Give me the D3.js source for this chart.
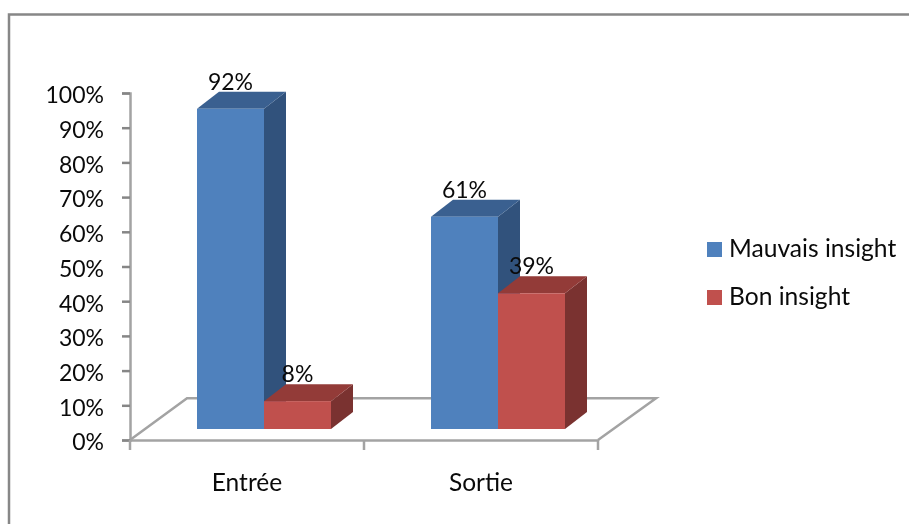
<!DOCTYPE html>
<html><head><meta charset="utf-8">
<script src="https://cdn.jsdelivr.net/npm/d3@7"></script>
<style>html,body{margin:0;padding:0;background:#fff;overflow:hidden}svg{display:block;filter:blur(0.35px)}text{font-family:Lato,"Open Sans",sans-serif;fill:#0a0a0a}</style>
</head><body><svg id="c" width="909" height="524"></svg>
<script>
const categories = ["Entrée","Sortie"];
const seriesNames = ["Mauvais insight","Bon insight"];
const mauvais = [92,61];
const bon = [8,39];
const yTicks = [0,10,20,30,40,50,60,70,80,90,100];
const colors = {front:["#4f81bd","#c0504d"],top:["#3a6090","#933b38"],side:["#31527c","#7a3230"]};

const svg = d3.select("#c");
const W=909,H=524;
const depthX=22, depthY=17;
const yAxis = d3.scaleLinear().domain([0,100]).range([440,93]);
const yBar = d3.scaleLinear().domain([0,100]).range([429,81]);
const xBand = d3.scaleBand().domain(categories).range([130,598]);
const xSeries = d3.scaleBand().domain(seriesNames).range([0,134]);
const grey="#a3a3a3";

svg.append("rect").attr("x",9).attr("y",14.5).attr("width",W).attr("height",H).attr("fill","#fff").attr("stroke","#878787").attr("stroke-width",2.5);

// floor
const floorPath = d3.path();
const x0=xBand.range()[0], x1=xBand.range()[1], yf=yAxis(0), yb=yAxis(12);
floorPath.moveTo(x0,yf);floorPath.lineTo(x0+57,yb);floorPath.lineTo(x1+58,yb);floorPath.lineTo(x1,yf);
svg.append("path").attr("d",floorPath.toString()).attr("fill","none").attr("stroke",grey).attr("stroke-width",2.5);

// axes
const gy=svg.append("g").attr("transform",`translate(${x0},0)`)
 .call(d3.axisLeft(yAxis).tickValues(yTicks).tickFormat(d=>d+"%").tickSize(8).tickPadding(18));
const gx=svg.append("g").attr("transform",`translate(0,${yf})`)
 .call(d3.axisBottom(xBand).tickValues([]).tickSize(0));
gx.selectAll("line.t").data([x0,x0+xBand.step(),x1]).enter().append("line").attr("class","t")
 .attr("x1",d=>d).attr("x2",d=>d).attr("y1",0).attr("y2",10).attr("stroke",grey).attr("stroke-width",2.5);
[gy,gx].forEach(g=>{g.attr("font-family",null).attr("font-size",null);
 g.selectAll(".domain").attr("stroke",grey).attr("stroke-width",2.5);
 g.selectAll(".tick line").attr("stroke","#868686").attr("stroke-width",2.5);
 g.selectAll(".tick text").attr("font-size",23).attr("dy","0.43em").attr("fill",null);});

svg.selectAll("text.cat").data(categories).enter().append("text").attr("class","cat")
 .attr("x",d=>xBand(d)+xBand.bandwidth()/2).attr("y",491).attr("text-anchor","middle").attr("font-size",24.5).text(d=>d);

// bars
const values=[mauvais,bon];
const groupLeft=c=>xBand(c)+xBand.bandwidth()/2-50;
const line=d3.line();
categories.forEach((c,ci)=>{
 seriesNames.forEach((s,si)=>{
  const v=values[si][ci];
  const xl=groupLeft(c)+xSeries(s), xr=xl+xSeries.bandwidth();
  const yt=yBar(v), yz=yBar(0);
  const g=svg.append("g");
  g.append("path").attr("fill",colors.side[si]).attr("d",line([[xr,yt],[xr+depthX,yt-depthY],[xr+depthX,yz-depthY],[xr,yz]])+"Z");
  g.append("path").attr("fill",colors.top[si]).attr("d",line([[xl,yt],[xl+depthX,yt-depthY],[xr+depthX,yt-depthY],[xr,yt]])+"Z");
  g.append("rect").attr("x",xl).attr("y",yt).attr("width",xr-xl).attr("height",yz-yt).attr("fill",colors.front[si]);
 });
});
// labels
categories.forEach((c,ci)=>{
 seriesNames.forEach((s,si)=>{
  const v=values[si][ci];
  const xl=groupLeft(c)+xSeries(s);
  svg.append("text").attr("x",xl+xSeries.bandwidth()/2).attr("y",yBar(v)-19).attr("text-anchor","middle").attr("font-size",23).text(v+"%");
 });
});
// legend
seriesNames.forEach((s,i)=>{
 const y=242+i*48;
 svg.append("rect").attr("x",707).attr("y",y).attr("width",15).attr("height",15).attr("fill",colors.front[i]);
 svg.append("text").attr("x",729).attr("y",y+15).attr("font-size",24.6).text(s);
});
</script></body></html>
